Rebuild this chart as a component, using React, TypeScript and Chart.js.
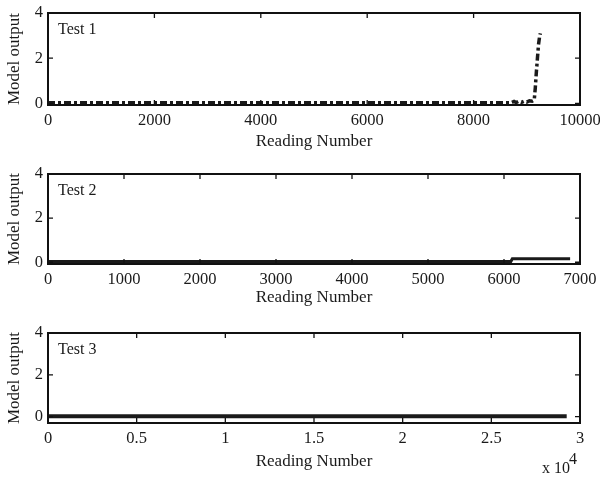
import React, { useEffect, useRef } from "react";
import { Chart, registerables } from "chart.js";

Chart.register(...registerables);

// ---------- data ----------
const test1X = [0, 1500, 3000, 4500, 6000, 7500, 8700, 8760, 8800, 8850, 8900, 8950, 9000, 9050, 9100, 9140, 9160, 9180, 9200, 9220, 9240, 9255];
const test1Y = [0.03, 0.03, 0.03, 0.03, 0.03, 0.03, 0.03, 0.09, 0.04, 0.1, 0.05, 0.1, 0.06, 0.12, 0.1, 0.15, 0.7, 1.4, 2.0, 2.6, 2.95, 3.1];

const test2X = [0, 2000, 4000, 6000, 6090, 6110, 6500, 6870];
const test2Y = [0.03, 0.03, 0.03, 0.03, 0.03, 0.16, 0.16, 0.16];

const test3X = [0, 5000, 10000, 15000, 20000, 25000, 29250];
const test3Y = [0.02, 0.02, 0.02, 0.02, 0.02, 0.02, 0.02];

const yTickValues = [0, 2, 4];
const xTicks1 = [0, 2000, 4000, 6000, 8000, 10000];
const xTicks2 = [0, 1000, 2000, 3000, 4000, 5000, 6000, 7000];
const xTicks3 = [0, 5000, 10000, 15000, 20000, 25000, 30000];
const xTickLabels3 = ["0", "0.5", "1", "1.5", "2", "2.5", "3"];

const panelLabels = ["Test 1", "Test 2", "Test 3"];
const xTitle = "Reading Number";
const yTitle = "Model output";

const FONT = '"Liberation Serif", "Times New Roman", serif';
const INK = "#1a1a1a";

const matlabAxes = {
  id: "matlabAxes",
  afterDraw(chart: any, _args: any, opts: any) {
    const { ctx, chartArea: a, scales } = chart;
    ctx.save();
    ctx.strokeStyle = "#111";
    ctx.lineWidth = 1.3;
    const tl = 5;
    ctx.beginPath();
    scales.x.ticks.forEach((t: any) => {
      const p = scales.x.getPixelForValue(t.value);
      ctx.moveTo(p, a.bottom);
      ctx.lineTo(p, a.bottom - tl);
      ctx.moveTo(p, a.top);
      ctx.lineTo(p, a.top + tl);
    });
    scales.y.ticks.forEach((t: any) => {
      const p = scales.y.getPixelForValue(t.value);
      ctx.moveTo(a.left, p);
      ctx.lineTo(a.left + tl, p);
      ctx.moveTo(a.right, p);
      ctx.lineTo(a.right - tl, p);
    });
    ctx.stroke();
    ctx.lineWidth = 2;
    ctx.strokeRect(a.left, a.top, a.right - a.left, a.bottom - a.top);
    ctx.fillStyle = INK;
    ctx.font = "16px " + FONT;
    ctx.textBaseline = "middle";
    ctx.textAlign = "left";
    ctx.fillText(opts.label, a.left + 10, a.top + 17);
    if (opts.exponent) {
      ctx.font = "16px " + FONT;
      ctx.fillText("x 10", 542, a.bottom + 46);
      ctx.fillText("4", 569, a.bottom + 37);
    }
    ctx.restore();
  },
};

type PanelSpec = {
  top: number;
  height: number;
  padTop: number;
  plotH: number;
  xs: number[];
  ys: number[];
  xTicks: number[];
  xLabels?: string[];
  xMax: number;
  yMin: number;
  label: string;
  dash: number[];
  width: number;
  titlePadBottom: number;
  exponent?: boolean;
};

const panels: PanelSpec[] = [
  { top: 0, height: 152, padTop: 13, plotH: 92, xs: test1X, ys: test1Y, xTicks: xTicks1, xMax: 10000, yMin: -0.07, label: panelLabels[0], dash: [7, 3, 3, 3], width: 3.5, titlePadBottom: 0 },
  { top: 152, height: 156, padTop: 22, plotH: 90, xs: test2X, ys: test2Y, xTicks: xTicks2, xMax: 7000, yMin: -0.08, label: panelLabels[1], dash: [], width: 3, titlePadBottom: 0 },
  { top: 308, height: 169, padTop: 25, plotH: 90, xs: test3X, ys: test3Y, xTicks: xTicks3, xLabels: xTickLabels3, xMax: 30000, yMin: -0.3, label: panelLabels[2], dash: [], width: 4, titlePadBottom: 5, exponent: true },
];

function Panel({ spec }: { spec: PanelSpec }) {
  const ref = useRef<HTMLCanvasElement | null>(null);
  useEffect(() => {
    if (!ref.current) return;
    const xScaleH = spec.height - spec.padTop - spec.plotH;
    const chart = new Chart(ref.current, {
      type: "line",
      data: {
        datasets: [
          {
            data: spec.xs.map((x, i) => ({ x, y: spec.ys[i] })),
            borderColor: INK,
            borderWidth: spec.width,
            borderDash: spec.dash,
            pointRadius: 0,
            tension: 0,
            fill: false,
          },
        ],
      },
      options: {
        responsive: false,
        animation: false,
        events: [],
        layout: { padding: { top: spec.padTop, right: 20, left: 0, bottom: 0 } },
        plugins: {
          legend: { display: false },
          tooltip: { enabled: false },
          matlabAxes: { label: spec.label, exponent: !!spec.exponent },
        } as any,
        scales: {
          x: {
            type: "linear",
            min: 0,
            max: spec.xMax,
            border: { display: false },
            grid: { display: false, drawTicks: false },
            afterBuildTicks: (s: any) => {
              s.ticks = spec.xTicks.map((v) => ({ value: v }));
            },
            afterFit: (s: any) => {
              s.height = xScaleH;
              s.paddingLeft = 0;
              s.paddingRight = 0;
            },
            ticks: {
              padding: 6,
              maxRotation: 0,
              autoSkip: false,
              color: INK,
              font: { family: FONT, size: 16.5 },
              callback: (v: any, i: number) => (spec.xLabels ? spec.xLabels[i] : String(v)),
            },
            title: {
              display: true,
              text: xTitle,
              color: INK,
              font: { family: FONT, size: 17 },
              padding: { top: 0, bottom: spec.titlePadBottom },
            },
          },
          y: {
            type: "linear",
            min: spec.yMin,
            max: 4,
            border: { display: false },
            grid: { display: false, drawTicks: false },
            afterBuildTicks: (s: any) => {
              s.ticks = yTickValues.map((v) => ({ value: v }));
            },
            afterFit: (s: any) => {
              s.width = 48;
              s.paddingTop = 0;
              s.paddingBottom = 0;
            },
            ticks: {
              padding: 5,
              color: INK,
              font: { family: FONT, size: 16.5 },
              callback: (v: any) => String(v),
            },
            title: {
              display: true,
              text: yTitle,
              color: INK,
              font: { family: FONT, size: 17 },
              padding: { top: 4, bottom: 0 },
            },
          },
        },
      },
      plugins: [matlabAxes as any],
    });
    return () => chart.destroy();
  }, [spec]);
  return (
    <canvas
      ref={ref}
      width={600}
      height={spec.height}
      style={{ position: "absolute", left: 0, top: spec.top, width: 600, height: spec.height }}
    />
  );
}

export default function App() {
  return (
    <div style={{ position: "absolute", left: 0, top: 0, width: 600, height: 477, background: "#fff", overflow: "hidden" }}>
      {panels.map((p, i) => (
        <Panel key={i} spec={p} />
      ))}
    </div>
  );
}
